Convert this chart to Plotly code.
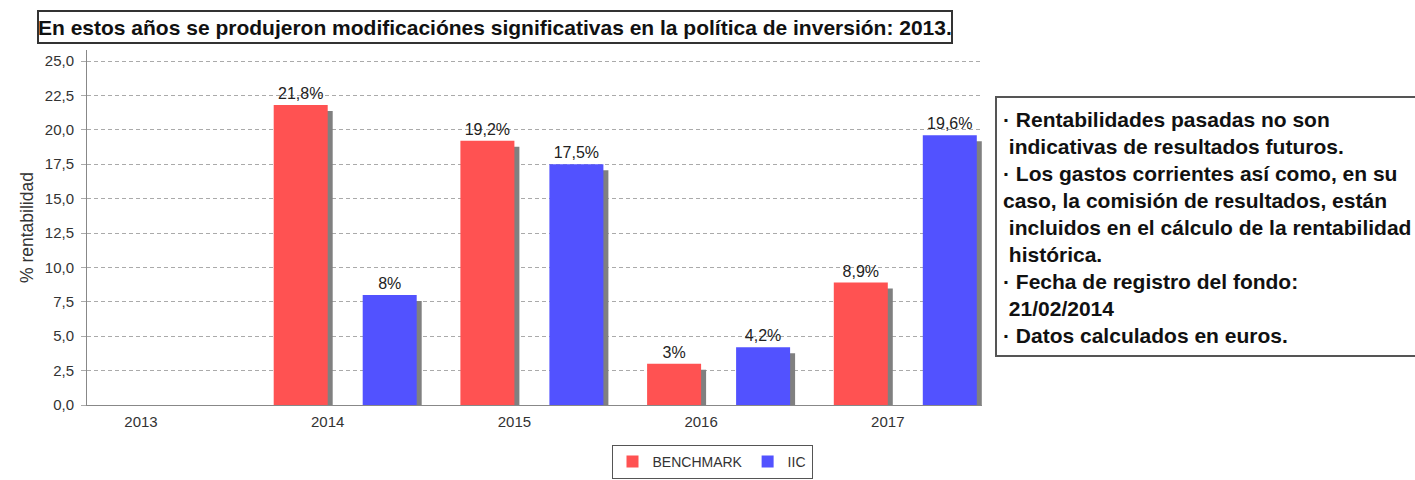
import plotly.graph_objects as go

# ---- data ----
years = [2013, 2014, 2015, 2016, 2017]
year_labels = ["2013", "2014", "2015", "2016", "2017"]
benchmark = [None, 21.8, 19.2, 3.0, 8.9]
iic = [None, 8.0, 17.5, 4.2, 19.6]
series_names = ["BENCHMARK", "IIC"]
title_text = "En estos años se produjeron modificaciónes significativas en la política de inversión: 2013."
note_lines = [
    "· Rentabilidades pasadas no son",
    " indicativas de resultados futuros.",
    "· Los gastos corrientes así como, en su",
    "caso, la comisión de resultados, están",
    " incluidos en el cálculo de la rentabilidad",
    " histórica.",
    "· Fecha de registro del fondo:",
    " 21/02/2014",
    "· Datos calculados en euros.",
]

# ---- layout geometry (pixels) ----
W, H = 1415, 480
PL, PR, PT, PB = 87, 982, 50, 405
def px(x):
    return (x - PL) / (PR - PL)
def py(y):
    return (PB - y) / (PB - PT)

UNIT = 186.7  # px per year
X0 = 2013 - 54 / UNIT
X1 = X0 + (PR - PL) / UNIT
YMAX = 25.8
PXY = (PB - PT) / YMAX

bar_w = 54 / UNIT
red_off = -54 / UNIT
blue_off = 35 / UNIT
sh_dx = 5 / UNIT
sh_dy = 6 / PXY

RED = "#FF5252"
BLUE = "#5252FF"
SHADOW = "#808080"
FONT = "Liberation Sans, Arial"

def fmt(v):
    if v is None:
        return ""
    return ("%g" % v).replace(".", ",") + "%"

def shadow_vals(vals):
    return [None if v is None else max(v - sh_dy, 0) for v in vals]

fig = go.Figure()
# shadows
fig.add_trace(go.Bar(x=years, y=shadow_vals(benchmark), width=bar_w, offset=red_off + sh_dx,
                     marker=dict(color=SHADOW, line=dict(width=0)), showlegend=False, hoverinfo="skip"))
fig.add_trace(go.Bar(x=years, y=shadow_vals(iic), width=bar_w, offset=blue_off + sh_dx,
                     marker=dict(color=SHADOW, line=dict(width=0)), showlegend=False, hoverinfo="skip"))
# bars
fig.add_trace(go.Bar(x=years, y=benchmark, name=series_names[0], width=bar_w, offset=red_off,
                     marker=dict(color=RED, line=dict(width=0)),
                     text=[fmt(v) for v in benchmark], textposition="outside",
                     textfont=dict(size=16, color="#222222"), cliponaxis=False))
fig.add_trace(go.Bar(x=years, y=iic, name=series_names[1], width=bar_w, offset=blue_off,
                     marker=dict(color=BLUE, line=dict(width=0)),
                     text=[fmt(v) for v in iic], textposition="outside",
                     textfont=dict(size=16, color="#222222"), cliponaxis=False))

shapes = [
    dict(type="rect", xref="paper", yref="paper", x0=px(38), x1=px(952), y0=py(43), y1=py(11),
         line=dict(color="#333333", width=2), fillcolor="rgba(0,0,0,0)", layer="above"),
    dict(type="rect", xref="paper", yref="paper", x0=px(996), x1=px(1430), y0=py(356), y1=py(97),
         line=dict(color="#555555", width=2), fillcolor="rgba(0,0,0,0)", layer="above"),
]

annotations = [
    dict(text=title_text, xref="paper", yref="paper", x=px(495), y=py(27), xanchor="center",
         yanchor="middle", showarrow=False,
         font=dict(size=21, color="#111111", family=FONT, weight="bold")),
]
line_y0, line_dy = 120, 26.9
for i, ln in enumerate(note_lines):
    annotations.append(dict(text=ln.replace(" ", "&nbsp;", 1) if ln.startswith(" ") else ln,
                            xref="paper", yref="paper", x=px(1001), y=py(line_y0 + i * line_dy),
                            xanchor="left", yanchor="middle", showarrow=False,
                            font=dict(size=21, color="#111111", family=FONT, weight="bold")))

fig.update_layout(
    width=W, height=H,
    margin=dict(l=PL, r=W - PR, t=PT, b=H - PB, pad=0, autoexpand=False),
    paper_bgcolor="white", plot_bgcolor="white",
    separators=",.",
    barmode="overlay",
    font=dict(family=FONT, size=15, color="#333333"),
    showlegend=True,
    legend=dict(orientation="h", x=px(712), y=py(462), xanchor="center", yanchor="middle",
                bordercolor="#555555", borderwidth=1, font=dict(size=14, color="#333333"),
                itemwidth=30, tracegroupgap=0),
    shapes=shapes,
    annotations=annotations,
    xaxis=dict(range=[X0, X1], tickmode="array", tickvals=years, ticktext=year_labels,
               showgrid=False, zeroline=False, showline=True, linecolor="#888888", linewidth=1,
               ticks="", tickfont=dict(size=15, color="#333333"), ticklabelstandoff=3),
    yaxis=dict(range=[0, YMAX], tickmode="linear", tick0=0, dtick=2.5, tickformat=".1f",
               showgrid=True, gridcolor="#AAAAAA", griddash="4px,3px", gridwidth=1,
               zeroline=False, showline=True, linecolor="#888888", linewidth=1,
               ticks="outside", ticklen=5, tickcolor="#AAAAAA", ticklabelstandoff=4,
               tickfont=dict(size=15, color="#333333"),
               title=dict(text="% rentabilidad", font=dict(size=17.5, color="#333333"), standoff=6)),
)

fig.write_html("out.html", config={"displayModeBar": False},
               post_script="document.body.style.margin='0';document.body.style.overflow='hidden';")
